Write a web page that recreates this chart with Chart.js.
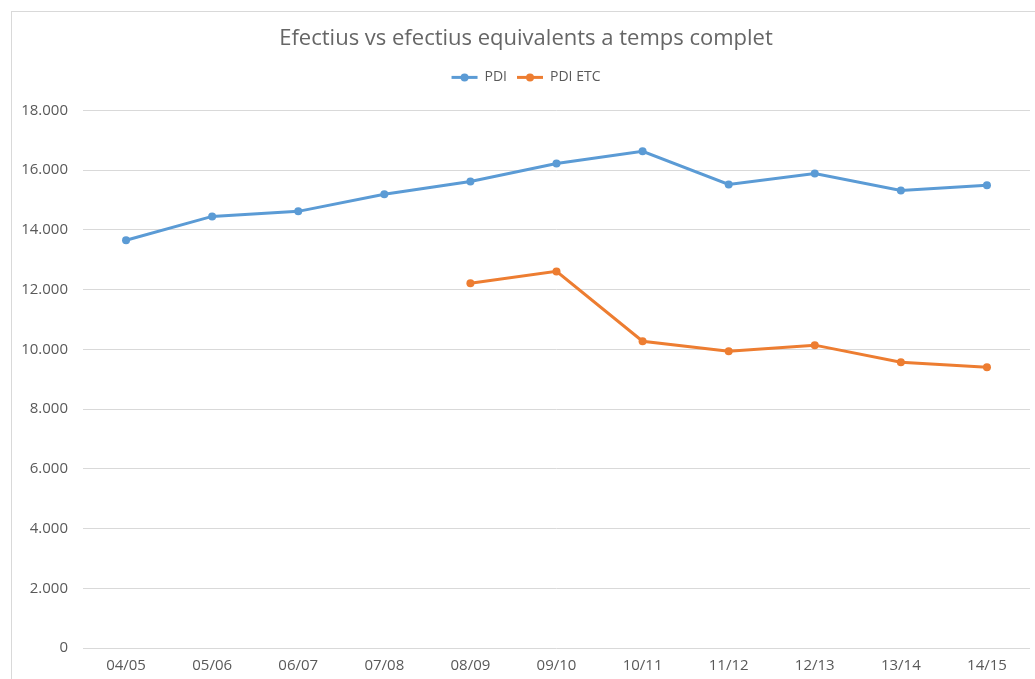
<!DOCTYPE html>
<html>
<head>
<meta charset="utf-8">
<script src="https://cdn.jsdelivr.net/npm/chart.js@4"></script>
<style>
  html, body { margin: 0; padding: 0; background: #fff; overflow: hidden; }
  #wrap { position: relative; width: 1035px; height: 679px; }
  #frame { position: absolute; left: 11px; top: 11px; width: 1100px; height: 800px;
           border: 1px solid #D9D9D9; box-sizing: border-box; }
  canvas { position: absolute; left: 0; top: 0; }
</style>
</head>
<body>
<div id="wrap">
  <div id="frame"></div>
  <canvas id="chart" width="1035" height="679"></canvas>
</div>
<script>
const cursos = ["04/05", "05/06", "06/07", "07/08", "08/09", "09/10", "10/11", "11/12", "12/13", "13/14", "14/15"];

const pdi = [13650, 14450, 14620, 15190, 15620, 16220, 16630, 15520, 15890, 15320, 15490];

const pdiEtc = [null, null, null, null, 12210, 12610, 10270, 9940, 10140, 9570, 9400];

const titol = "Efectius vs efectius equivalents a temps complet";

const blau = "#5B9BD5";
const taronja = "#ED7D31";
const gris = "#595959";
const reixa = "#D9D9D9";

const fontFamily = "'Open Sans', 'Liberation Sans', sans-serif";

// marcador de llegenda: línia amb punt al mig
const legendMarkers = {
  id: "legendMarkers",
  beforeInit(chart) {
    const fit = chart.legend.fit;
    chart.legend.fit = function () {
      fit.bind(chart.legend)();
      this.height += 16;
    };
  },
  afterDraw(chart) {
    const legend = chart.legend;
    if (!legend || !legend.legendHitBoxes) return;
    const ctx = chart.ctx;
    const bw = legend.options.labels.boxWidth;
    legend.legendHitBoxes.forEach((box, i) => {
      const color = chart.data.datasets[i].borderColor;
      const cy = box.top + box.height / 2;
      ctx.save();
      ctx.strokeStyle = color;
      ctx.fillStyle = color;
      ctx.lineWidth = 3;
      ctx.beginPath();
      ctx.moveTo(box.left, cy);
      ctx.lineTo(box.left + bw, cy);
      ctx.stroke();
      ctx.beginPath();
      ctx.arc(box.left + bw / 2, cy, 4, 0, Math.PI * 2);
      ctx.fill();
      ctx.restore();
    });
  }
};

new Chart(document.getElementById("chart"), {
  type: "line",
  data: {
    labels: cursos,
    datasets: [
      {
        label: "PDI",
        data: pdi,
        borderColor: blau,
        backgroundColor: blau,
        borderWidth: 3,
        pointRadius: 4,
        pointBackgroundColor: blau,
        pointBorderWidth: 0,
        tension: 0
      },
      {
        label: "PDI ETC",
        data: pdiEtc,
        borderColor: taronja,
        backgroundColor: taronja,
        borderWidth: 3,
        pointRadius: 4,
        pointBackgroundColor: taronja,
        pointBorderWidth: 0,
        tension: 0
      }
    ]
  },
  options: {
    responsive: false,
    animation: false,
    layout: { padding: { left: 22, right: 5, top: 0, bottom: 0 } },
    plugins: {
      title: {
        display: true,
        text: titol,
        color: "#666666",
        font: { family: fontFamily, size: 22, weight: "normal" },
        padding: { top: 26, bottom: 8 }
      },
      legend: {
        display: true,
        position: "top",
        labels: {
          color: gris,
          font: { family: fontFamily, size: 14 },
          boxWidth: 26,
          boxHeight: 14,
          padding: 10,
          generateLabels(chart) {
            return Chart.defaults.plugins.legend.labels.generateLabels(chart).map(l => {
              l.fillStyle = "rgba(0,0,0,0)";
              l.strokeStyle = "rgba(0,0,0,0)";
              l.lineWidth = 0;
              return l;
            });
          }
        }
      },
      tooltip: { enabled: false }
    },
    scales: {
      x: {
        offset: true,
        grid: { display: false, drawTicks: false },
        border: { display: false },
        ticks: {
          color: gris,
          font: { family: fontFamily, size: 15 },
          padding: 9,
          maxRotation: 0
        },
        afterFit(scale) { scale.height = 31; }
      },
      y: {
        min: 0,
        max: 18000,
        grid: { color: reixa, lineWidth: 1, drawTicks: false },
        border: { display: false },
        ticks: {
          stepSize: 2000,
          color: gris,
          font: { family: fontFamily, size: 15 },
          padding: 15,
          callback: v => v.toString().replace(/\B(?=(\d{3})+(?!\d))/g, ".")
        },
        afterFit(scale) { scale.width = 61; }
      }
    }
  },
  plugins: [legendMarkers]
});
</script>
</body>
</html>
